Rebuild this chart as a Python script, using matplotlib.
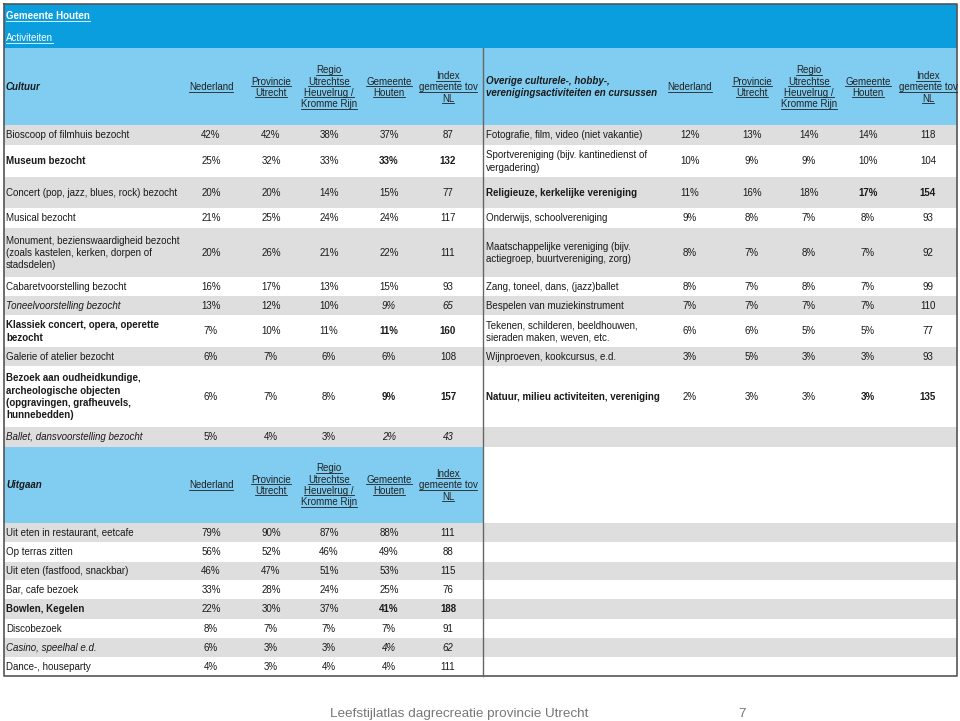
import matplotlib.pyplot as plt
from matplotlib.patches import Rectangle

plt.rcParams['font.family'] = ['Liberation Sans', 'DejaVu Sans']

# kolomkoppen
col_heads = ["Nederland", "Provincie\nUtrecht", "Regio\nUtrechtse\nHeuvelrug /\nKromme Rijn",
             "Gemeente\nHouten", "Index\ngemeente tov\nNL"]

# Cultuur
cultuur_labels = ["Bioscoop of filmhuis bezocht", "Museum bezocht",
                  "Concert (pop, jazz, blues, rock) bezocht", "Musical bezocht",
                  "Monument, bezienswaardigheid bezocht\n(zoals kastelen, kerken, dorpen of\nstadsdelen)",
                  "Cabaretvoorstelling bezocht", "Toneelvoorstelling bezocht",
                  "Klassiek concert, opera, operette\nbezocht", "Galerie of atelier bezocht",
                  "Bezoek aan oudheidkundige,\narcheologische objecten\n(opgravingen, grafheuvels,\nhunnebedden)",
                  "Ballet, dansvoorstelling bezocht"]
cultuur_nl = [42, 25, 20, 21, 20, 16, 13, 7, 6, 6, 5]
cultuur_prov = [42, 32, 20, 25, 26, 17, 12, 10, 7, 7, 4]
cultuur_regio = [38, 33, 14, 24, 21, 13, 10, 11, 6, 8, 3]
cultuur_gem = [37, 33, 15, 24, 22, 15, 9, 11, 6, 9, 2]
cultuur_index = [87, 132, 77, 117, 111, 93, 65, 160, 108, 157, 43]

# Overige culturele-, hobby-, verenigingsactiviteiten en cursussen
overig_labels = ["Fotografie, film, video (niet vakantie)",
                 "Sportvereniging (bijv. kantinedienst of\nvergadering)",
                 "Religieuze, kerkelijke vereniging", "Onderwijs, schoolvereniging",
                 "Maatschappelijke vereniging (bijv.\nactiegroep, buurtvereniging, zorg)",
                 "Zang, toneel, dans, (jazz)ballet", "Bespelen van muziekinstrument",
                 "Tekenen, schilderen, beeldhouwen,\nsieraden maken, weven, etc.",
                 "Wijnproeven, kookcursus, e.d.", "Natuur, milieu activiteiten, vereniging"]
overig_nl = [12, 10, 11, 9, 8, 8, 7, 6, 3, 2]
overig_prov = [13, 9, 16, 8, 7, 7, 7, 6, 5, 3]
overig_regio = [14, 9, 18, 7, 8, 8, 7, 5, 3, 3]
overig_gem = [14, 10, 17, 8, 7, 7, 7, 5, 3, 3]
overig_index = [118, 104, 154, 93, 92, 99, 110, 77, 93, 135]

# Uitgaan
uitgaan_labels = ["Uit eten in restaurant, eetcafe", "Op terras zitten",
                  "Uit eten (fastfood, snackbar)", "Bar, cafe bezoek", "Bowlen, Kegelen",
                  "Discobezoek", "Casino, speelhal e.d.", "Dance-, houseparty"]
uitgaan_nl = [79, 56, 46, 33, 22, 8, 6, 4]
uitgaan_prov = [90, 52, 47, 28, 30, 7, 3, 3]
uitgaan_regio = [87, 46, 51, 24, 37, 7, 3, 4]
uitgaan_gem = [88, 49, 53, 25, 41, 7, 4, 4]
uitgaan_index = [111, 88, 115, 76, 188, 91, 62, 111]

# layout (pixels)
cult_edges = [125, 145, 177, 208, 228, 277, 296, 315, 347, 366, 427, 447]
uit_edges = [523, 542, 562, 580, 599, 619, 638, 657, 676]
left_cols = [211, 271, 329, 389, 448]
right_cols = [690, 752, 809, 868, 928]
X0, X1, XM = 4, 957, 483

FS = 7.0
DARK = '#0a9edf'
LIGHT = '#80cdf1'
GRAY = '#dedede'
TXT = '#1a1a1a'

fig = plt.figure(figsize=(9.6, 7.21), dpi=100)
ax = fig.add_axes([0, 0, 1, 1])
ax.set_xlim(0, 960)
ax.set_ylim(721, 0)
ax.axis('off')

underlined = []


def lines_at(x, yc, text, ha='left', weight='normal', style='normal', color=TXT,
             step=12.3, ul=False, size=FS):
    parts = text.split('\n')
    y0 = yc - step * (len(parts) - 1) / 2
    for i, p in enumerate(parts):
        t = ax.text(x, y0 + i * step + 3.4, p, ha=ha, va='baseline', fontsize=size,
                    fontweight=weight, fontstyle=style, color=color)
        if ul:
            underlined.append(t)


def rect(x, y, w, h, c):
    ax.add_patch(Rectangle((x, y), w, h, facecolor=c, edgecolor='none'))


def styles(idx):
    if idx >= 130:
        return 'bold', 'normal'
    if idx <= 70:
        return 'normal', 'italic'
    return 'normal', 'normal'


# achtergronden
rect(X0, 4, X1 - X0, 44, DARK)
rect(X0, 48, X1 - X0, cult_edges[0] - 48, LIGHT)
rect(X0, cult_edges[-1], XM - X0, uit_edges[0] - cult_edges[-1], LIGHT)
for i in range(len(cult_edges) - 1):
    if i % 2 == 0:
        rect(X0, cult_edges[i], X1 - X0, cult_edges[i + 1] - cult_edges[i], GRAY)
for i in range(len(uit_edges) - 1):
    if i % 2 == 0:
        rect(X0, uit_edges[i], X1 - X0, uit_edges[i + 1] - uit_edges[i], GRAY)

# randen
ax.plot([X0, X1, X1, X0, X0], [4, 4, 676, 676, 4], color='#555555', lw=1.2)
ax.plot([XM, XM], [48, 676], color='#666666', lw=1.0)

# banner
lines_at(6, 16, "Gemeente Houten", weight='bold', color='white', ul=True)
lines_at(6, 38, "Activiteiten", color='white', ul=True)


def header(yc, title, cols, lx):
    lines_at(lx, yc, title, weight='bold', style='italic', step=12)
    for x, h in zip(cols, col_heads):
        lines_at(x, yc, h, ha='center', step=11.3, ul=True, color='#222222')


header(87, "Cultuur", left_cols, 6)
header(87, "Overige culturele-, hobby-,\nverenigingsactiviteiten en cursussen", right_cols, 486)
header(485, "Uitgaan", left_cols, 6)


def block(edges, labels, nl, prov, regio, gem, idx, cols, lx):
    for i, lab in enumerate(labels):
        yc = (edges[i] + edges[i + 1]) / 2
        w, s = styles(idx[i])
        lines_at(lx, yc, lab, weight=w, style=s)
        vals = [f"{nl[i]}%", f"{prov[i]}%", f"{regio[i]}%", f"{gem[i]}%", f"{idx[i]}"]
        for j, (x, v) in enumerate(zip(cols, vals)):
            if j >= 3:
                lines_at(x, yc, v, ha='center', weight=w, style=s)
            else:
                lines_at(x, yc, v, ha='center')


block(cult_edges, cultuur_labels, cultuur_nl, cultuur_prov, cultuur_regio, cultuur_gem,
      cultuur_index, left_cols, 6)
block(cult_edges, overig_labels, overig_nl, overig_prov, overig_regio, overig_gem,
      overig_index, right_cols, 486)
block(uit_edges, uitgaan_labels, uitgaan_nl, uitgaan_prov, uitgaan_regio, uitgaan_gem,
      uitgaan_index, left_cols, 6)

# voettekst
ax.text(330, 717, "Leefstijlatlas dagrecreatie provincie Utrecht", fontsize=9.7,
        color='#777777', va='baseline')
ax.text(738, 717, "7", fontsize=9.7, color='#777777', va='baseline')

# onderstrepingen
fig.canvas.draw()
r = fig.canvas.get_renderer()
inv = ax.transData.inverted()
for t in underlined:
    bb = t.get_window_extent(r)
    xa = inv.transform((bb.x0, 0))[0]
    xb = inv.transform((bb.x1, 0))[0]
    yb = t.get_position()[1] + 1.4
    ax.plot([xa, xb], [yb, yb], color=t.get_color(), lw=0.6)

fig.savefig('out.png', dpi=100)
